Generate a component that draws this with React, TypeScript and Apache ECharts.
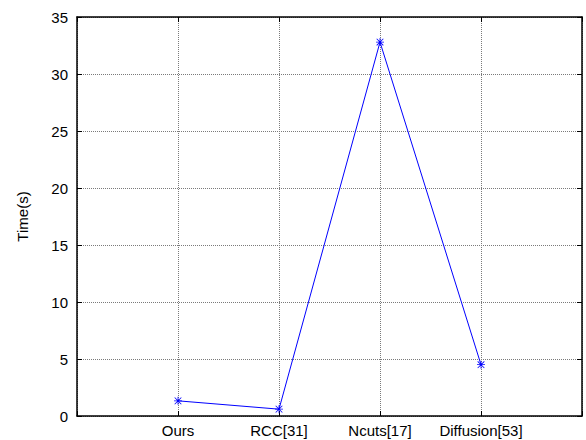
import React, { useEffect, useRef } from "react";
import * as echarts from "echarts";

const categories = ["Ours", "RCC[31]", "Ncuts[17]", "Diffusion[53]"];
const times = [1.33, 0.6, 32.8, 4.5];
const yTicks = [0, 5, 10, 15, 20, 25, 30, 35];

const asterisk =
  "path://M4.5 0h1v10h-1z M0 4.5h10v1h-10z M1.2 0.5L9.5 8.8L8.8 9.5L0.5 1.2Z M8.8 0.5L9.5 1.2L1.2 9.5L0.5 8.8Z";

export default function App() {
  const ref = useRef<HTMLDivElement>(null);
  useEffect(() => {
    if (!ref.current) return;
    const chart = echarts.init(ref.current, null, { renderer: "svg" });
    const font = "'Liberation Sans', Arial, sans-serif";
    const grid = {
      type: [1, 1] as any,
      color: "#7a7a7a",
      width: 1,
    };
    chart.setOption({
      animation: false,
      backgroundColor: "#fff",
      grid: { left: 77, right: 4, top: 17, bottom: 24, containLabel: false },
      xAxis: [
        {
          type: "value",
          min: 0,
          max: categories.length + 1,
          interval: 1,
          axisLine: { show: true, onZero: false, lineStyle: { color: "#000", width: 1.5 } },
          axisTick: { show: true, inside: true, length: 5, lineStyle: { color: "#000" } },
          axisLabel: {
            color: "#000",
            fontFamily: font,
            fontSize: 15,
            margin: 7,
            formatter: (v: number) => (v >= 1 && v <= categories.length ? categories[v - 1] : ""),
          },
          splitLine: { show: true, lineStyle: grid },
        },
        {
          type: "value",
          position: "top",
          min: 0,
          max: categories.length + 1,
          interval: 1,
          axisLine: { show: true, onZero: false, lineStyle: { color: "#000", width: 1.5 } },
          axisTick: { show: true, inside: true, length: 5, lineStyle: { color: "#000" } },
          axisLabel: { show: false },
          splitLine: { show: false },
        },
      ],
      yAxis: [
        {
          type: "value",
          min: yTicks[0],
          max: yTicks[yTicks.length - 1],
          interval: 5,
          name: "Time(s)",
          nameLocation: "middle",
          nameGap: 47,
          nameTextStyle: { color: "#000", fontFamily: font, fontSize: 15 },
          axisLine: { show: true, onZero: false, lineStyle: { color: "#000", width: 1.5 } },
          axisTick: { show: true, inside: true, length: 5, lineStyle: { color: "#000" } },
          axisLabel: { color: "#000", fontFamily: font, fontSize: 15, margin: 9 },
          splitLine: { show: true, lineStyle: grid },
        },
        {
          type: "value",
          position: "right",
          min: yTicks[0],
          max: yTicks[yTicks.length - 1],
          interval: 5,
          axisLine: { show: true, onZero: false, lineStyle: { color: "#000", width: 1.5 } },
          axisTick: { show: true, inside: true, length: 5, lineStyle: { color: "#000" } },
          axisLabel: { show: false },
          splitLine: { show: false },
        },
      ],
      series: [
        {
          type: "line",
          data: times.map((t, i) => [i + 1, t]),
          symbol: asterisk,
          symbolSize: 8,
          showSymbol: true,
          itemStyle: { color: "#0000ff" },
          lineStyle: { color: "#0000ff", width: 1 },
        },
      ],
    });
    return () => chart.dispose();
  }, []);
  return <div ref={ref} style={{ width: 586, height: 440, position: "absolute", left: 0, top: 0 }} />;
}
